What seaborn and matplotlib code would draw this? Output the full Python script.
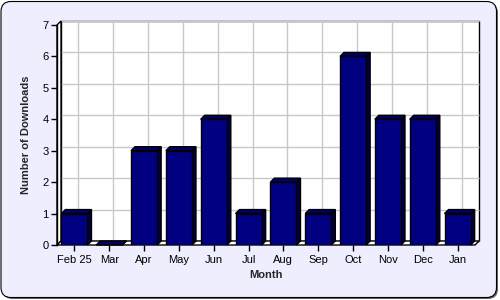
import matplotlib
matplotlib.use("Agg")
import matplotlib.pyplot as plt
import matplotlib.transforms as mtransforms
from matplotlib.patches import Rectangle, Polygon, FancyBboxPatch
import seaborn as sns
import pandas as pd

months = ["Feb 25", "Mar", "Apr", "May", "Jun", "Jul", "Aug", "Sep", "Oct", "Nov", "Dec", "Jan"]
downloads = [1, 0, 3, 3, 4, 1, 2, 1, 6, 4, 4, 1]
y_ticks = [0, 1, 2, 3, 4, 5, 6, 7]

sns.set_theme(style="white")
plt.rcParams["font.family"] = ["Liberation Sans", "DejaVu Sans"]

W, H, DPI = 500, 300, 100
fig = plt.figure(figsize=(W / DPI, H / DPI), dpi=DPI)
fig.patch.set_facecolor("white")
ident = mtransforms.IdentityTransform()

# rounded background panel with shadow
shadow = FancyBboxPatch((2.5, 1), W - 4.5, H - 4, boxstyle="round,pad=0,rounding_size=10",
                        transform=ident, facecolor="#666666", edgecolor="none", zorder=-3)
panel = FancyBboxPatch((1, 2.5), W - 4.5, H - 4, boxstyle="round,pad=0,rounding_size=10",
                       transform=ident, facecolor="#EEEEFF", edgecolor="black", lw=0.8, zorder=-2)
fig.add_artist(shadow)
fig.add_artist(panel)

left, right, top, bottom = 57, 475, 25, 245
ax = fig.add_axes([left / W, (H - bottom) / H, (right - left) / W, (bottom - top) / H])
ax.set_facecolor("none")

df = pd.DataFrame({"Month": months, "Downloads": downloads})
sns.barplot(data=df, x="Month", y="Downloads", color="#000080", saturation=1,
            width=0.75, edgecolor="black", linewidth=1, ax=ax, zorder=3)

ax.set_xlim(-0.5, len(months) - 0.5)
ax.set_ylim(y_ticks[0], y_ticks[-1])
ax.set_yticks(y_ticks)

d = 4  # depth in pixels
off = mtransforms.ScaledTranslation(d / DPI, d / DPI, fig.dpi_scale_trans)

# back wall
ax.add_patch(Rectangle((0, 0), 1, 1, transform=ax.transAxes + off, facecolor="white",
                       edgecolor="black", lw=1, zorder=0.1, clip_on=False))
# grid on back wall
ax.hlines(y_ticks, -0.5, len(months) - 0.5, colors="#c8c8c8", lw=1,
          transform=ax.transData + off, zorder=0.2, clip_on=False)
ax.vlines(range(len(months)), y_ticks[0], y_ticks[-1], colors="#c8c8c8", lw=1,
          transform=ax.transData + off, zorder=0.2, clip_on=False)

td = ax.transData
x_lo, x_hi = -0.5, len(months) - 0.5
fl = td.transform((x_lo, 0)); fr = td.transform((x_hi, 0)); tl = td.transform((x_lo, y_ticks[-1]))
# floor
floor = [fl, fr, fr + d, fl + d]
ax.add_patch(Polygon(floor, closed=True, transform=ident, facecolor="white",
                     edgecolor="black", lw=1, zorder=0.3, clip_on=False))
# left wall
lwall = [fl, tl, tl + d, fl + d]
ax.add_patch(Polygon(lwall, closed=True, transform=ident, facecolor="white",
                     edgecolor="black", lw=1, zorder=0.25, clip_on=False))

# 3D faces of bars
for p in list(ax.patches):
    if not isinstance(p, Rectangle) or p.get_zorder() != 3:
        continue
    x0, w, h = p.get_x(), p.get_width(), p.get_height()
    b = td.transform((x0 + w, 0))
    c = td.transform((x0 + w, h)); e = td.transform((x0, h))
    topf = [e, c, c + d, e + d]
    side = [b, c, c + d, b + d]
    ax.add_patch(Polygon(side, closed=True, transform=ident, facecolor="#000040",
                         edgecolor="black", lw=1, zorder=2.9, clip_on=False))
    ax.add_patch(Polygon(topf, closed=True, transform=ident, facecolor="#000066",
                         edgecolor="black", lw=1, zorder=2.9, clip_on=False))

for s in ["top", "right", "bottom"]:
    ax.spines[s].set_visible(False)
ax.spines["left"].set_color("black")
ax.spines["left"].set_linewidth(1)
ax.spines["left"].set_zorder(4)

ax.tick_params(axis="both", which="both", direction="out", length=4, width=1,
               color="black", labelsize=8, labelcolor="black", pad=2)
ax.tick_params(axis="x", bottom=True, pad=3)
ax.tick_params(axis="y", left=True)

ax.set_xlabel("Month", fontsize=8, fontweight="bold", labelpad=4)
ax.set_ylabel("Number of Downloads", fontsize=8, fontweight="bold", labelpad=8)

fig.savefig("out.png", dpi=DPI)
